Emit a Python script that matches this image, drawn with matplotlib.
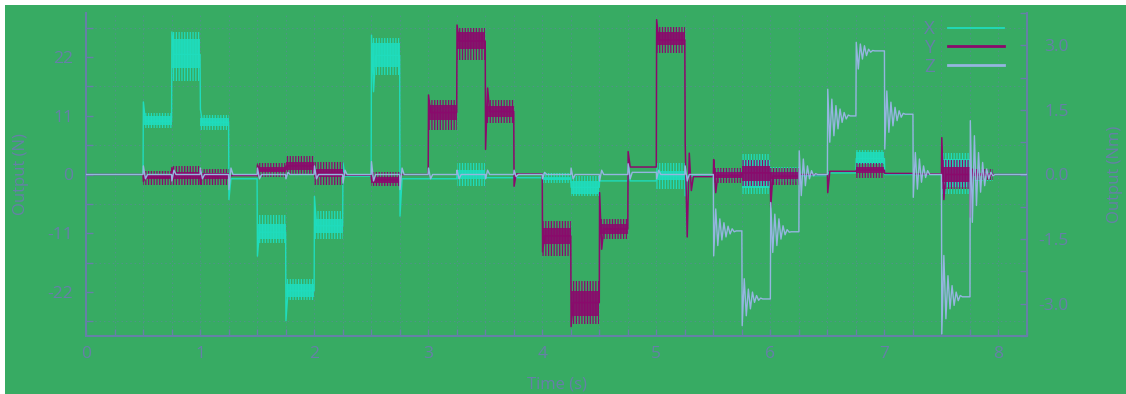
import matplotlib
matplotlib.use("Agg")
import matplotlib.pyplot as plt
from matplotlib.lines import Line2D
from matplotlib.patches import Rectangle
from matplotlib.ticker import MultipleLocator

BG = "#37ab63"
INK = "#6680a8"
C_X = "#1fdcbc"
C_Y = "#8a0a6c"
C_Z = "#95b5e0"

plt.rcParams["font.family"] = ["Open Sans", "DejaVu Sans"]
plt.rcParams["font.size"] = 12
plt.rcParams["hatch.linewidth"] = 0.9

# ---------------- data ----------------
T_END = 8.25
RING_DT = 0.018          # spacing of successive transient extremes (s)

# X force (N): step times, settled level, transient extremes after each step
x_step_t = [0.00, 0.50, 0.75, 1.00, 1.25, 1.50, 1.75, 2.00, 2.25, 2.50, 2.75,
            3.25, 3.50, 4.00, 4.25, 4.50, 4.75, 5.00, 5.25, 5.50, 5.75, 6.00,
            6.25, 6.50, 6.75, 7.00, 7.25, 7.50, 7.75]
x_level = [0.0, 10.0, 22.5, 9.8, -0.8, -10.8, -21.8, -9.6, -0.3, 22.3, -0.8,
           0.0, -0.6, -0.8, -2.4, -1.2, -1.2, -0.3, -0.3, 0.0, 0.0, 0.0,
           -0.2, 0.3, 3.0, 0.0, 0.0, 0.2, 0.0]
x_spikes = [[], [13.6], [26.7], [12.2], [-4.7], [-15.3], [-27.4], [-4.1], [2.2],
            [26.1, 15.5], [-7.8], [], [], [], [], [], [2.5], [], [-4.0], [], [],
            [], [], [], [], [], [], [], []]
# X noise envelope: outer fringe and dense core
x_band_t0 = [0.50, 0.75, 1.00, 1.50, 1.75, 2.00, 2.50, 3.25, 4.00, 4.25, 5.00,
             5.50, 5.75, 6.00, 6.75, 7.50, 7.75]
x_band_t1 = [0.75, 1.00, 1.25, 1.75, 2.00, 2.25, 2.75, 3.50, 4.25, 4.50, 5.25,
             5.75, 6.00, 6.25, 7.00, 7.75, 7.95]
x_outer_lo = [8.8, 17.5, 8.4, -12.8, -23.6, -12.0, 18.6, -2.2, -1.6, -4.1, -2.8,
              -0.8, -3.7, -1.4, 1.2, -3.7, -1.2]
x_outer_hi = [11.6, 26.6, 11.2, -7.6, -19.6, -6.9, 25.6, 2.2, 0.2, -0.3, 2.2,
              1.0, 3.8, 1.4, 4.6, 4.1, 1.0]
x_core_lo = [9.3, 20.0, 9.0, -12.0, -23.0, -11.0, 20.2, -0.8, -1.0, -3.6, -1.0,
             -0.3, -2.6, -0.5, 2.0, -2.4, -0.3]
x_core_hi = [10.9, 25.4, 10.6, -9.2, -20.6, -8.3, 24.6, 0.8, -0.4, -1.2, 0.6,
             0.4, 2.8, 0.5, 4.2, 2.9, 0.3]

# Y force (N)
y_step_t = [0.00, 0.50, 0.75, 1.00, 1.25, 1.50, 1.75, 2.00, 2.25, 2.50, 2.75,
            3.00, 3.25, 3.50, 3.75, 4.00, 4.25, 4.50, 4.75, 5.00, 5.25, 5.50,
            5.75, 6.00, 6.25, 6.50, 6.75, 7.00, 7.25, 7.50, 7.75]
y_level = [0.0, -0.5, -0.2, -0.3, -0.2, 0.9, 1.6, 0.3, -0.1, -1.0, 0.0,
           11.6, 25.0, 11.8, 0.1, -11.5, -24.0, -10.2, 1.4, 25.2, -0.4, -0.2,
           0.3, -0.3, 0.0, 0.6, 0.8, 0.2, 0.1, 0.0, 0.0]
y_spikes = [[], [-1.3], [1.3], [-1.8], [-0.9], [1.8], [], [], [], [], [],
            [14.9], [28.0], [4.7, 16.2], [-2.2], [-14.5], [-28.5], [-3.4, -14.0],
            [4.3], [29.0], [6.0, -11.7, 4.0, -3.0], [2.8, -3.4], [], [-6.2], [],
            [-3.4], [], [], [], [6.9, -4.7], [-8.0, 1.0]]
y_band_t0 = [0.50, 0.75, 1.00, 1.50, 1.75, 2.00, 2.50, 3.00, 3.25, 3.50, 4.00,
             4.25, 4.50, 5.00, 5.50, 5.75, 6.00, 6.75, 7.50, 7.75]
y_band_t1 = [0.75, 1.00, 1.25, 1.75, 2.00, 2.25, 2.75, 3.25, 3.50, 3.75, 4.25,
             4.50, 4.75, 5.25, 5.75, 6.00, 6.25, 7.00, 7.75, 7.95]
y_outer_lo = [-1.9, -1.9, -1.9, -0.4, 0.0, -1.9, -2.2, 8.4, 21.4, 9.7, -15.3,
              -28.0, -12.1, 22.7, -1.5, -2.2, -1.9, -0.6, -2.8, -1.0]
y_outer_hi = [0.6, 1.5, 1.0, 2.2, 3.4, 2.4, 0.4, 14.0, 27.4, 14.0, -8.8,
              -20.0, -8.4, 27.6, 1.3, 2.8, 1.3, 2.2, 2.8, 1.0]
y_core_lo = [-0.9, -0.9, -0.8, 0.4, 0.8, -0.5, -1.6, 10.2, 23.6, 10.8, -13.0,
             -26.5, -11.2, 24.2, -0.7, -1.2, -0.9, 0.2, -1.4, -0.3]
y_core_hi = [-0.1, 0.5, 0.3, 1.4, 2.3, 1.1, -0.4, 13.0, 26.6, 12.9, -10.0,
             -21.8, -9.3, 26.6, 0.4, 1.6, 0.4, 1.4, 1.4, 0.3]

# Z torque (Nm)
z_step_t = [0.00, 0.50, 0.75, 1.00, 1.25, 1.50, 1.75, 2.00, 2.25, 2.50, 2.75,
            3.00, 3.25, 3.50, 3.75, 4.00, 4.25, 4.50, 4.75, 5.00, 5.25,
            5.50, 5.75, 6.00, 6.25, 6.50, 6.75, 7.00, 7.25, 7.50, 7.75]
z_level = [0.0, 0.0, 0.0, 0.0, 0.0, 0.0, 0.0, 0.0, 0.0, 0.0, 0.0,
           0.0, 0.0, 0.0, 0.0, 0.0, 0.0, 0.0, 0.05, 0.0, 0.0,
           -1.31, -2.89, -1.33, 0.0, 1.36, 2.87, 1.40, 0.0, -2.84, 0.0]
z_spikes = [
    [], [0.2, -0.1], [-0.15, 0.1], [0.15, -0.1], [-0.35, 0.15], [0.15, -0.1],
    [-0.1, 0.05], [0.2, -0.1], [-0.2, 0.1], [0.3, -0.15], [-0.35, 0.15],
    [0.15, -0.1], [0.1, -0.1], [-0.1, 0.1], [0.1, -0.05], [-0.1, 0.05],
    [0.15, -0.1], [-0.15, 0.1], [0.25, -0.1], [-0.1, 0.1], [0.2, -0.15],
    [-1.89, -0.80, -1.65, -1.03, -1.52, -1.12, -1.45, -1.20, -1.38, -1.26, -1.33],
    [-3.51, -2.42, -3.28, -2.66, -3.12, -2.73, -2.97, -2.81, -2.92, -2.87],
    [-0.65, -1.81, -0.92, -1.65, -1.03, -1.50, -1.19, -1.40, -1.28, -1.34],
    [0.55, -0.49, 0.36, -0.26, 0.20, -0.10, 0.09, -0.03, 0.02],
    [1.98, 0.75, 1.75, 0.90, 1.60, 1.06, 1.52, 1.21, 1.44, 1.29, 1.38],
    [3.07, 2.45, 3.03, 2.68, 2.99, 2.76, 2.91, 2.84, 2.88],
    [0.59, 1.94, 0.98, 1.68, 1.13, 1.56, 1.25, 1.48, 1.33, 1.42],
    [-0.53, 0.51, -0.34, 0.36, -0.18, 0.20, -0.07, 0.09],
    [-3.70, -1.88, -3.35, -2.35, -3.12, -2.58, -3.04, -2.73, -2.93, -2.81],
    [1.25, -1.11, 0.90, -0.72, 0.51, -0.41, 0.28, -0.26, 0.13, -0.10, 0.05, -0.03],
]

x_ticks = [0, 1, 2, 3, 4, 5, 6, 7, 8]
force_ticks = [-22, -11, 0, 11, 22]
torque_ticks = [-3.0, -1.5, 0.0, 1.5, 3.0]
series_names = ["X", "Y", "Z"]


def step_trace(step_t, level, spikes, t_end):
    """Polyline through the step levels and the transient extremes."""
    ts, vs = [], []
    for i, t0 in enumerate(step_t):
        t1 = step_t[i + 1] if i + 1 < len(step_t) else t_end
        if i > 0:
            ts.append(t0)
            vs.append(level[i - 1])
        for k, s in enumerate(spikes[i]):
            ts.append(t0 + 0.003 + k * RING_DT)
            vs.append(s)
        ts.append(t0 + 0.003 + len(spikes[i]) * RING_DT)
        vs.append(level[i])
        ts.append(t1)
        vs.append(level[i])
    return ts, vs


def draw_bands(ax, t0s, t1s, olo, ohi, clo, chi, color, z):
    """Noise envelope: hatched sparse fringe plus a solid dense core."""
    for a, b, lo, hi, lo2, hi2 in zip(t0s, t1s, olo, ohi, clo, chi):
        ax.fill_between([a, b], [lo, lo], [hi, hi], facecolor="none",
                        edgecolor=color, hatch="||||||", lw=0, zorder=z)
        ax.fill_between([a, b], [lo2, lo2], [hi2, hi2], color=color, alpha=0.9,
                        lw=0, zorder=z)


# ---------------- figure ----------------
fig = plt.figure(figsize=(11.26, 3.94), dpi=100, facecolor="white")
fig.patches.append(Rectangle((5 / 1126, 0), 1 - 5 / 1126, 1 - 5 / 394,
                             transform=fig.transFigure, facecolor=BG,
                             edgecolor="none", zorder=-10))

ax = fig.add_axes([86 / 1126, 58 / 394, 941 / 1126, 323 / 394])
ax.set_facecolor(BG)
ax2 = ax.twinx()

ax.set_xlim(0, T_END)
ax.set_ylim(-30.25, 30.25)
ax2.set_ylim(-3.75, 3.75)

# dotted grid on every quarter second and every 5.5 N
grid_kw = dict(color=INK, lw=0.7, ls=(0, (1.5, 3)), alpha=0.55)
ax.xaxis.set_minor_locator(MultipleLocator(0.25))
ax.yaxis.set_minor_locator(MultipleLocator(5.5))
ax2.yaxis.set_minor_locator(MultipleLocator(0.75))
ax.grid(True, which="both", axis="x", **grid_kw)
ax.grid(True, which="minor", axis="y", **grid_kw)
ax.set_axisbelow(True)

# series
draw_bands(ax, x_band_t0, x_band_t1, x_outer_lo, x_outer_hi, x_core_lo, x_core_hi, C_X, 2)
tx, vx = step_trace(x_step_t, x_level, x_spikes, T_END)
ax.plot(tx, vx, color=C_X, lw=1.0, zorder=3)

draw_bands(ax, y_band_t0, y_band_t1, y_outer_lo, y_outer_hi, y_core_lo, y_core_hi, C_Y, 4)
ty, vy = step_trace(y_step_t, y_level, y_spikes, T_END)
ax.plot(ty, vy, color=C_Y, lw=1.1, zorder=5)

tz, vz = step_trace(z_step_t, z_level, z_spikes, T_END)
ax2.plot(tz, vz, color=C_Z, lw=1.0, zorder=5)

# axes styling
ax.set_xticks(x_ticks)
ax.set_yticks(force_ticks)
ax.set_yticklabels([str(v) for v in force_ticks])
ax2.set_yticks(torque_ticks)
ax2.set_yticklabels([f"{v:.1f}" for v in torque_ticks])

for a in (ax, ax2):
    for sp in a.spines.values():
        sp.set_color(INK)
        sp.set_linewidth(1.3)
ax.spines["top"].set_visible(False)
ax2.spines["top"].set_visible(False)

ax.tick_params(axis="x", which="both", direction="in", length=5, width=1,
               color=INK, labelcolor=INK, labelsize=12.5, pad=7, top=False)
ax.tick_params(axis="y", which="both", direction="in", length=5, width=1,
               color=INK, labelcolor=INK, labelsize=12.5, pad=9, right=False)
ax2.tick_params(axis="y", which="both", direction="in", length=5, width=1,
                color=INK, labelcolor=INK, labelsize=12.5, pad=30)
for lbl in ax2.get_yticklabels():
    lbl.set_horizontalalignment("right")

ax.set_xlabel("Time (s)", color=INK, fontsize=12)
ax.xaxis.set_label_coords(0.5, -0.125)
ax.set_ylabel("Output (N)", color=INK, fontsize=12)
ax.yaxis.set_label_coords(-0.061, 0.5)
ax2.set_ylabel("Output (Nm)", color=INK, fontsize=12, rotation=90)
ax2.yaxis.set_label_coords(1.085, 0.5)

handles = [Line2D([], [], color=C_X, lw=1.3),
           Line2D([], [], color=C_Y, lw=2.0),
           Line2D([], [], color=C_Z, lw=2.0)]
leg = ax2.legend(handles, series_names, loc="upper right",
                 bbox_to_anchor=(0.976, 0.978), markerfirst=False, frameon=False,
                 handlelength=3.0, handletextpad=0.7, labelspacing=0.05,
                 borderaxespad=0, borderpad=0, fontsize=13.5, labelcolor=INK)

fig.savefig("out.png", dpi=100, facecolor=fig.get_facecolor())
